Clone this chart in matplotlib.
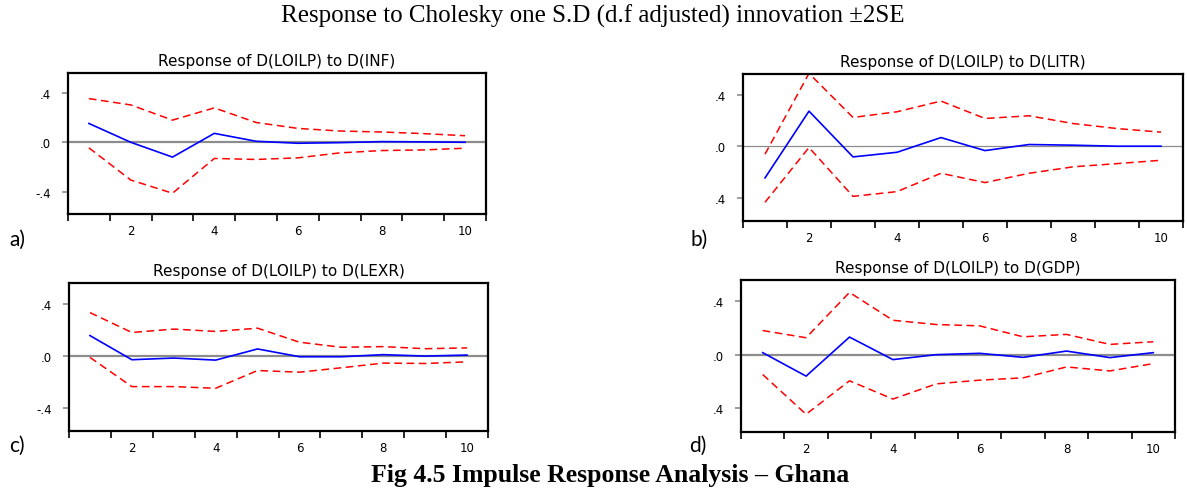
import matplotlib
matplotlib.use('Agg')
import matplotlib.pyplot as plt

# impulse response periods
periods = [1, 2, 3, 4, 5, 6, 7, 8, 9, 10]

# a) response to D(INF)
inf_resp = [0.152, 0.0, -0.12, 0.072, 0.008, -0.008, -0.003, 0.005, 0.003, 0.0]
inf_up = [0.353, 0.302, 0.179, 0.278, 0.16, 0.112, 0.091, 0.083, 0.07, 0.053]
inf_lo = [-0.045, -0.305, -0.412, -0.131, -0.139, -0.126, -0.086, -0.067, -0.062, -0.048]

# b) response to D(LITR)
litr_resp = [-0.246, 0.272, -0.083, -0.047, 0.067, -0.034, 0.013, 0.008, 0.0, 0.0]
litr_up = [-0.062, 0.565, 0.223, 0.267, 0.35, 0.215, 0.236, 0.176, 0.137, 0.109]
litr_lo = [-0.435, -0.01, -0.389, -0.352, -0.21, -0.282, -0.21, -0.16, -0.135, -0.109]

# c) response to D(LEXR)
lexr_resp = [0.155, -0.031, -0.018, -0.034, 0.052, -0.008, -0.008, 0.008, -0.003, 0.005]
lexr_up = [0.332, 0.179, 0.205, 0.187, 0.212, 0.104, 0.065, 0.07, 0.054, 0.06]
lexr_lo = [-0.013, -0.238, -0.238, -0.251, -0.114, -0.127, -0.093, -0.057, -0.06, -0.047]

# d) response to D(GDP)
gdp_resp = [0.015, -0.161, 0.132, -0.037, 0.0, 0.01, -0.02, 0.027, -0.022, 0.015]
gdp_up = [0.181, 0.127, 0.467, 0.258, 0.226, 0.216, 0.134, 0.152, 0.077, 0.097]
gdp_lo = [-0.149, -0.447, -0.196, -0.333, -0.219, -0.191, -0.174, -0.092, -0.122, -0.067]

titles = ['Response of D(LOILP) to D(INF)', 'Response of D(LOILP) to D(LITR)',
          'Response of D(LOILP) to D(LEXR)', 'Response of D(LOILP) to D(GDP)']
letters = ['a)', 'b)', 'c)', 'd)']
ylabels_ab = [['.4', '.0', '-.4'], ['.4', '.0', '.4'], ['.4', '.0', '-.4'], ['.4', '.0', '.4']]

W, H = 1187, 489
# axes boxes in pixels: left, right, top, bottom
boxes = [(68, 486, 74, 215), (743, 1183, 75, 222), (69, 488, 284, 432), (741, 1175, 281, 433)]
letter_pos = [(9, 240), (691, 240), (9, 446), (689, 446)]

fig = plt.figure(figsize=(W / 100, H / 100), dpi=100)
fig.patch.set_facecolor('white')

data = [(inf_resp, inf_up, inf_lo), (litr_resp, litr_up, litr_lo),
        (lexr_resp, lexr_up, lexr_lo), (gdp_resp, gdp_up, gdp_lo)]

for i, (resp, up, lo) in enumerate(data):
    l, r, t, b = boxes[i]
    ax = fig.add_axes([l / W, 1 - b / H, (r - l) / W, (b - t) / H])
    ax.axhline(0, color='#8c8c8c', lw=1.6 if i != 1 else 0.9, zorder=1)
    ax.plot(periods, up, color='red', ls=(0, (5, 3)), lw=1.1)
    ax.plot(periods, lo, color='red', ls=(0, (5, 3)), lw=1.1)
    ax.plot(periods, resp, color='blue', lw=1.2)
    ax.set_xlim(0.5, 10.5)
    ax.set_ylim(-0.58, 0.56)
    # tick marks sit between periods, labels on even periods
    ax.set_xticks([p - 0.5 for p in periods] + [10.5])
    ax.set_xticklabels([])
    ax.set_xticks([2, 4, 6, 8, 10], minor=True)
    ax.set_xticklabels(['2', '4', '6', '8', '10'], minor=True,
                       family='DejaVu Sans', fontsize=8.5)
    ax.tick_params(axis='x', which='major', direction='out', length=5, width=1.2)
    ax.tick_params(axis='x', which='minor', length=0, pad=7)
    ax.set_yticks([0.4, 0.0, -0.4])
    ax.set_yticklabels(ylabels_ab[i], family='DejaVu Sans', fontsize=8.5)
    ax.tick_params(axis='y', direction='out', length=4, width=1.2, color='#8c8c8c', pad=8)
    for s in ax.spines.values():
        s.set_linewidth(1.6)
    ax.set_title(titles[i], family='DejaVu Sans', fontsize=11, pad=6)
    fig.text(letter_pos[i][0] / W, 1 - letter_pos[i][1] / H, letters[i],
             family='Lato', fontsize=15, va='center', ha='left')

fig.text(593 / W, 1 - 16 / H, 'Response to Cholesky one S.D (d.f adjusted) innovation \u00b12SE',
         family='Liberation Serif', fontsize=18, ha='center', va='center')
fig.text(610 / W, 1 - 476 / H, 'Fig 4.5 Impulse Response Analysis \u2013 Ghana',
         family='Liberation Serif', fontsize=18.5, weight='bold', ha='center', va='center')

fig.savefig('out.png', dpi=100)
